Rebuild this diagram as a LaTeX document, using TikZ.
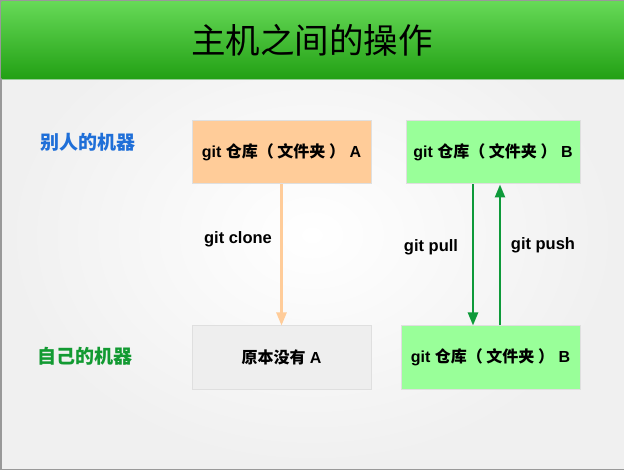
\documentclass[tikz,border=0pt]{standalone}
\usepackage{fontspec}
\setmainfont{Liberation Sans}
\newfontfamily\zh{Noto Sans CJK SC}
\usetikzlibrary{arrows.meta}

\definecolor{titletop}{HTML}{66D957}
\definecolor{titlebot}{HTML}{22A014}
\definecolor{peach}{HTML}{FFCC99}
\definecolor{lgreen}{HTML}{99FF99}
\definecolor{boxgray}{HTML}{EEEEEE}
\definecolor{arrgreen}{HTML}{0E9A3A}
\definecolor{otherblue}{HTML}{1F6FD8}
\definecolor{selfgreen}{HTML}{129A32}

\newcommand\zhtx[1]{{\zh #1}}

\tikzset{
  repobox/.style={draw=gray!25, line width=1pt, minimum width=179pt, minimum height=63pt,
    inner sep=0pt, font=\fontsize{16}{19}\selectfont\bfseries},
  oplabel/.style={font=\fontsize{16.5}{19}\selectfont\bfseries, inner sep=0pt},
  hostlabel/.style={font=\fontsize{19}{22}\selectfont\zh\bfseries, inner sep=0pt},
  oparrow/.style={line width=2.4pt, -{Triangle[width=10pt,length=13pt]}}
}

\begin{document}
\begin{tikzpicture}[x=1pt,y=-1pt]
    \useasboundingbox (0,0) rectangle (624,470);
    % slide background and frame
    \shade[inner color=white, outer color=gray!12] (0,0) rectangle (624,470);
    \draw[gray!80, line width=1.5pt] (624,0.75) -- (0.75,0.75) -- (0.75,469.25) -- (624,469.25);
    % title bar
    \shade[top color=titletop, bottom color=titlebot] (1.5,1.5) rectangle (624,79);
    \draw[green!35!gray!60, line width=1.5pt] (1.5,79.5) -- (624,79.5);
    \node (title) at (312,40) {\fontsize{34.5}{40}\selectfont\zh 主机之间的操作};

    % machines
    \node[hostlabel, text=otherblue] (other) at (88,142) {别人的机器};
    \node[hostlabel, text=selfgreen] (self) at (85,356) {自己的机器};

    % repositories
    \node[repobox, fill=peach] (repoA) at (281.5,152.5) {git \zhtx{仓库（ 文件夹 ）} A};
    \node[repobox, fill=lgreen, minimum width=174pt] (repoB) at (493,152.5) {git \zhtx{仓库（ 文件夹 ）} B};
    \node[repobox, fill=boxgray] (noneA) at (281.5,357.5) {\zhtx{原本没有} A};
    \node[repobox, fill=lgreen] (localB) at (490.5,357.5) {git \zhtx{仓库（ 文件夹 ）} B};

    % operations
    \coordinate (pullx) at (473,0);
    \coordinate (pushx) at (500,0);
    \draw[oparrow, peach] (repoA.south) -- (noneA.north);
    \draw[oparrow, arrgreen] (repoB.south -| pullx) -- (localB.north -| pullx);
    \draw[oparrow, arrgreen] (localB.north -| pushx) -- (repoB.south -| pushx);
    \node[oplabel] (clone) at (238,239) {git clone};
    \node[oplabel] (pull) at (431,247) {git pull};
    \node[oplabel] (push) at (543,245) {git push};
\end{tikzpicture}
\end{document}
